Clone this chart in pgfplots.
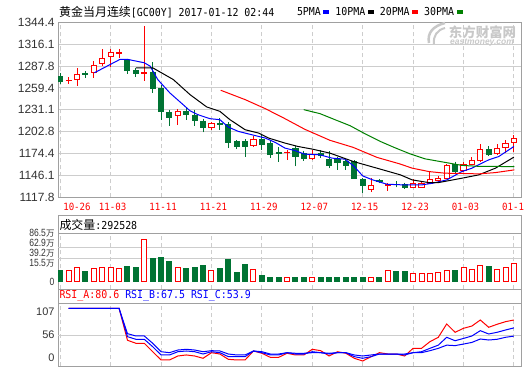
\documentclass[border=0pt]{standalone}
\usepackage{fontspec}
\setmainfont{Liberation Sans}
\newfontfamily\cjk{Noto Sans CJK SC}
\newfontfamily\mono[FakeStretch=0.906]{DejaVu Sans Mono}
\newfontfamily\dmono[FakeStretch=0.913]{DejaVu Sans Mono}
\newfontfamily\narrow[FakeStretch=0.82]{Liberation Sans}
\usepackage{pgfplots}
\pgfplotsset{compat=1.18}
\usepgfplotslibrary{statistics}
\definecolor{cred}{RGB}{255,0,0}
\definecolor{cgreen}{RGB}{0,115,51}
\definecolor{cblue}{RGB}{0,0,255}
\definecolor{cma30}{RGB}{0,128,0}
\definecolor{frame}{RGB}{160,160,160}
\definecolor{gridc}{RGB}{205,205,205}
\definecolor{labc}{RGB}{51,51,51}
\definecolor{wm}{RGB}{200,200,200}
\newcommand{\wan}{{\cjk\fontsize{8.5}{8.5}\selectfont 万}}
\pgfplotsset{
  panel/.style={scale only axis, width=463.3bp, xmin=-0.27, xmax=54.88,
    axis line style={frame, line width=1bp}, tick style={draw=none},
    xtick={0,6,...,54}, xmajorgrids,
    x grid style={gridc, dash pattern=on 4bp off 3bp, line width=1bp},
    y grid style={gridc, line width=1bp}},
  up/.style={draw=cred, fill=white, line width=1bp, forget plot},
  dn/.style={draw=cgreen, fill=cgreen, line width=1bp, forget plot},
}
\newcommand{\candle}[6]{\addplot[#1, boxplot prepared={draw position=#2, lower whisker=#3, lower quartile=#4, median=#4, upper quartile=#5, upper whisker=#6}] coordinates {};}
\begin{document}
\begin{tikzpicture}
\useasboundingbox (0bp,0bp) rectangle (524bp,369bp);
% ---------------- main price panel ----------------
\begin{axis}[panel, at={(58bp,171.7bp)}, anchor=south west, height=175bp,
  ymin=1117.8, ymax=1344.4,
  ytick={1117.8,1146.1,1174.4,1202.8,1231.1,1259.4,1287.8,1316.1,1344.4},
  yticklabels={1117.8,1146.1,1174.4,1202.8,1231.1,1259.4,1287.8,1316.1,1344.4},
  ymajorgrids,
  yticklabel style={font=\fontsize{12}{12}\selectfont, text=labc},
  xticklabels={,11-03,11-11,11-21,11-29,12-07,12-15,12-23,01-03,01-11},
  xticklabel style={font=\dmono\fontsize{10}{10}\selectfont, text=cred, anchor=center, yshift=-9.4bp, xshift=2bp},
  extra x ticks={0}, extra x tick labels={10-26},
  extra x tick style={xticklabel style={xshift=14.7bp}},
  boxplot/draw direction=y, boxplot/box extend=0.6, boxplot/whisker extend=0,
  legend plot pos=right, legend columns=-1,
  legend image code/.code={\fill (0bp,-1bp) rectangle (5bp,2bp);},
  legend style={at={(0.5159,1.056)}, anchor=west, draw=none, fill=none,
    inner sep=0pt, outer sep=0pt, font=\mono\fontsize{11}{11}\selectfont,
    /tikz/every odd column/.append style={column sep=2.5bp},
    /tikz/every even column/.append style={column sep=6bp},
    nodes={inner sep=0pt}},
]
% type, index, low, min(open,close), max(open,close), high
\candle{dn}{0}{1265}{1268.1}{1273.7}{1279}
\candle{up}{1}{1265}{1268.5}{1269.5}{1273.7}
\candle{up}{2}{1262.5}{1270.3}{1276.8}{1285.5}
\candle{dn}{3}{1272.5}{1277.4}{1278.2}{1281}
\candle{up}{4}{1272.5}{1279}{1288.9}{1294.1}
\candle{up}{5}{1287.6}{1291.1}{1297.2}{1309.3}
\candle{up}{6}{1286.3}{1299.8}{1305}{1309.3}
\candle{up}{7}{1298.5}{1304.5}{1305.3}{1309.3}
\candle{dn}{8}{1278}{1282.4}{1295.4}{1297.2}
\candle{dn}{9}{1273.8}{1277.7}{1282.4}{1285.5}
\candle{up}{10}{1268.6}{1278}{1279.4}{1339.6}
\candle{dn}{11}{1253}{1258.6}{1279}{1292.8}
\candle{dn}{12}{1218.3}{1228.3}{1258.6}{1263.1}
\candle{dn}{13}{1210.5}{1221.3}{1227}{1231.3}
\candle{up}{14}{1211.4}{1223.5}{1228.3}{1232.2}
\candle{dn}{15}{1218.3}{1225.2}{1228.3}{1233.5}
\candle{dn}{16}{1210.5}{1217}{1223.9}{1231.3}
\candle{dn}{17}{1201.8}{1208.3}{1215.3}{1219.6}
\candle{up}{18}{1205.3}{1208.8}{1213.1}{1215.3}
\candle{dn}{19}{1205.3}{1212.6}{1213.6}{1220}
\candle{dn}{20}{1181.5}{1189}{1212.7}{1215.1}
\candle{dn}{21}{1180.2}{1183.6}{1190}{1191.6}
\candle{dn}{22}{1170.6}{1183.6}{1190}{1193.2}
\candle{up}{23}{1182.8}{1185.4}{1192.3}{1197.5}
\candle{dn}{24}{1179.3}{1186.7}{1193.2}{1198.8}
\candle{dn}{25}{1168.9}{1173.7}{1187.7}{1192.3}
\candle{dn}{26}{1163.7}{1174.2}{1175.2}{1182.5}
\candle{up}{27}{1166.3}{1175.3}{1176.3}{1179.3}
\candle{dn}{28}{1157.8}{1170.6}{1181.5}{1184.5}
\candle{dn}{29}{1165}{1168.2}{1174.1}{1178}
\candle{up}{30}{1166.3}{1168.5}{1173.7}{1179.3}
\candle{dn}{31}{1168.9}{1171.5}{1174.5}{1178.4}
\candle{dn}{32}{1155.5}{1159.1}{1166.3}{1177.7}
\candle{dn}{33}{1153.3}{1162.8}{1166.7}{1169.5}
\candle{dn}{34}{1153.3}{1159.1}{1164.1}{1166.3}
\candle{dn}{35}{1141.6}{1142.2}{1163.7}{1165.6}
\candle{dn}{36}{1123.8}{1133.1}{1140.3}{1142.9}
\candle{up}{37}{1125.3}{1128}{1132.9}{1143.3}
\candle{dn}{38}{1136}{1138.6}{1139.4}{1141.5}
\candle{up}{39}{1126.4}{1133.4}{1134.2}{1136}
\candle{dn}{40}{1130.8}{1134.3}{1135}{1139}
\candle{dn}{41}{1129.5}{1130.3}{1134.7}{1136.8}
\candle{up}{42}{1129.9}{1130.8}{1136}{1141.2}
\candle{up}{43}{1130.8}{1130.8}{1136}{1139.4}
\candle{up}{44}{1135.5}{1136}{1140.3}{1152}
\candle{up}{45}{1138}{1139}{1142.5}{1145.5}
\candle{up}{46}{1141.6}{1142.5}{1158.9}{1160.7}
\candle{dn}{47}{1149}{1151.1}{1159.8}{1164.1}
\candle{up}{48}{1151.1}{1152.4}{1159.8}{1164.1}
\candle{up}{49}{1160.2}{1160.7}{1165}{1169.8}
\candle{up}{50}{1164.5}{1165.4}{1180.2}{1186.7}
\candle{dn}{51}{1171.5}{1172.8}{1180.2}{1183.6}
\candle{up}{52}{1172.8}{1174.1}{1181.5}{1187.1}
\candle{up}{53}{1175.8}{1182.8}{1188}{1192.3}
\candle{up}{54}{1177.1}{1189.3}{1194.5}{1198.8}
% moving averages
\addplot[color=cblue, line width=1bp] coordinates {
(4.05,1279.0) (7.1,1296.3) (8.06,1296.3) (10,1292.0) (10.7,1287.6) (11.6,1270.3)
(13.06,1252.8) (14.64,1237.6) (15.44,1229.8) (16.43,1224.6) (17.82,1219.6) (19.0,1218.3)
(20,1208.8) (21.2,1203.1) (22.8,1198.8) (24.4,1194.5) (25.6,1188.8) (26.75,1181.5)
(27.9,1178.4) (29.1,1173.7) (30.9,1172.8) (32.35,1168.5) (33.9,1167.2) (35.0,1157.6)
(36.0,1145.5) (37.2,1140.3) (38.9,1134.7) (41.0,1133.8) (43.0,1133.8) (44.3,1136)
(46.0,1140.3) (47.8,1151.1) (49.0,1155.5) (51.0,1166.3) (52.2,1170.6) (54,1183.6)};
\addlegendentry{5PMA}
\addplot[color=black, line width=1bp] coordinates {
(9.0,1285.5) (11.0,1285.5) (13.45,1270.3) (15.44,1250.8) (17.43,1234.8) (19.0,1229.1)
(20.2,1218.3) (20.8,1214.0) (22.0,1205.3) (23.6,1201.0) (24.8,1194.5) (26.75,1188.0)
(28.3,1183.6) (30.0,1180.2) (32.1,1175.0) (34.9,1164.1) (37.7,1155.5) (40.5,1146.8)
(41.9,1140.3) (43.9,1136.8) (45.0,1136.8) (47.8,1142.5) (49.8,1146.8) (51.8,1155.5) (54,1169.8)};
\addlegendentry{10PMA}
\addplot[color=cred, line width=1bp] coordinates {
(19.1,1256.4) (22.0,1244.3) (24.4,1232.6) (26.75,1219.6) (29.1,1205.9) (32.1,1191.6)
(34.85,1182.5) (37.7,1169.5) (40.4,1161.1) (41.9,1155.5) (43.9,1151.1) (45.8,1149.0)
(47.8,1148.7) (49.8,1148.1) (51.8,1149.8) (54.05,1153.3)};
\addlegendentry{20PMA}
\addplot[color=cma30, line width=1bp] coordinates {
(28.98,1231.3) (30.92,1226.1) (32.7,1218.3) (34.5,1210.5) (36.27,1200.1) (38.06,1190.3)
(39.85,1181.9) (41.63,1174.1) (43.42,1167.6) (45.8,1163.0) (47.82,1159.1) (49.96,1157.8) (54.05,1157.6)};
\addlegendentry{30PMA}
\end{axis}
% header texts
\node[anchor=west, inner sep=0pt] at (59bp,356.5bp) {{\cjk\fontsize{12}{12}\selectfont 黄金当月连续}{\mono\fontsize{11}{11}\selectfont [GC00Y] 2017-01-12 02:44}};
% watermark
\draw[wm, line width=2.5bp] (429bp,326bp) .. controls (427bp,336bp) and (433bp,343bp) .. (445bp,346bp);
\draw[wm, line width=2bp] (434bp,325bp) .. controls (433bp,333bp) and (437bp,339bp) .. (445bp,341bp);
\node[anchor=west, inner sep=0pt, text=wm] at (448.7bp,337bp) {\cjk\bfseries\fontsize{13.5}{13.5}\selectfont 东方财富网};
\node[anchor=west, inner sep=0pt, text=wm] at (450bp,326.5bp) {\bfseries\itshape\fontsize{8.5}{8.5}\selectfont eastmoney.com};
% ---------------- volume panel ----------------
\draw[frame, line width=1bp] (58bp,135.7bp) rectangle (521.3bp,153.3bp);
\node[anchor=west, inner sep=0pt] at (59.3bp,144bp) {{\cjk\fontsize{12}{12}\selectfont 成交量}{\mono\fontsize{11}{11}\selectfont :292528}};
\begin{axis}[panel, at={(58bp,79.7bp)}, anchor=south west, height=56bp,
  ymin=-14, ymax=89.1, ytick={0,34.1,52.5,70.9,88.9},
  yticklabels={0,15.5\wan,39.2\wan,62.9\wan,86.5\wan},
  xticklabels={},
  extra y ticks={43.3,63.5}, extra y tick labels={,}, extra y tick style={grid=major},
  yticklabel style={font=\narrow\fontsize{10.5}{10.5}\selectfont, text=labc}]
\addplot[ybar, bar width=5bp, bar shift=0pt, draw=cred, fill=white, line width=1bp] coordinates {
(1,19.7) (2,26.5) (4,24.7) (5,26.5) (6,26.5) (7,25.2) (10,78.1) (14,26.5) (18,21.5) (23,22.8)
(27,8.1) (30,8.1) (37,8.0) (39,19.7) (42,14.2) (43,14.2) (44,15.5) (45,16.6) (46,20.3)
(48,25.8) (49,22.8) (50,30.2) (52,22.8) (53,25.8) (54,33.9)};
\addplot[ybar, bar width=5bp, bar shift=0pt, draw=cgreen, fill=cgreen, line width=1bp] coordinates {
(0,20.3) (3,18.4) (8,27.6) (9,25.8) (11,43.1) (12,44.9) (13,38.1) (15,25.2) (16,26.5) (17,28.9)
(19,25.2) (20,40.0) (21,16.6) (22,32.0) (24,12.3) (25,8.1) (26,8.0) (28,8.1) (29,8.0) (31,8.1)
(32,8.1) (33,8.0) (34,8.1) (35,8.2) (36,8.1) (38,8.0) (40,18.4) (41,18.4) (47,19.7) (51,27.1)};
\end{axis}
% ---------------- RSI panel ----------------
\draw[frame, line width=1bp] (58bp,65.7bp) rectangle (521.3bp,79.7bp);
\node[anchor=west, inner sep=0pt] at (59.3bp,73.3bp) {\mono\fontsize{11}{11}\selectfont\textcolor{cred}{RSI\_A:80.6} \textcolor{cblue}{RSI\_B:67.5} \textcolor{cblue}{RSI\_C:53.9}};
\begin{axis}[panel, at={(58bp,3bp)}, anchor=south west, height=62.7bp,
  ymin=4.3, ymax=108.3, ytick={18.1,94.4}, yticklabels={0,107},
  extra y ticks={55.7}, extra y tick labels={56}, extra y tick style={grid=major},
  xticklabels={},
  yticklabel style={font=\fontsize{11}{11}\selectfont, text=labc}]
\addplot[color=cred, line width=1bp] coordinates {
(1,100) (2,100) (3,100) (4,100) (5,100) (6,100) (7,100) (8,47) (9,42) (10,42) (11,28)
(12,14.3) (13,14.3) (14,20.9) (15,22.6) (16,20.9) (17,17.1) (18,26.4) (19,24.2) (20,15.4)
(21,14.3) (22,14.3) (23,29.2) (24,25.4) (25,18.7) (26,18.7) (27,25.4) (28,22.6) (29,22.6)
(30,32) (31,29.7) (32,20.9) (33,28) (34,25.4) (35,17.1) (36,12.6) (37,19.8) (38,26.4)
(39,24.2) (40,24.2) (41,20.9) (42,33.6) (43,33.6) (44,44.6) (45,51.9) (46,74) (47,60.2)
(48,66.8) (49,70.6) (50,80.6) (51,68.5) (52,73.5) (53,77.8) (54,80.6)};
\addplot[color=cblue, line width=1bp] coordinates {
(1,100) (2,100) (3,100) (4,100) (5,100) (6,100) (7,100) (8,53) (9,48.6) (10,48.6) (11,36.3)
(12,22.6) (13,22.6) (14,28) (15,29.2) (16,28) (17,24.2) (18,28) (19,26.4) (20,19.8)
(21,19.8) (22,19.8) (23,29.2) (24,26.4) (25,22.6) (26,22.6) (27,26.4) (28,24.2) (29,24.2)
(30,28) (31,26.4) (32,24.2) (33,26.4) (34,26.4) (35,19.8) (36,17.1) (37,19.8) (38,24.2)
(39,24.2) (40,24.2) (41,22.6) (42,26.4) (43,28) (44,33.6) (45,38.9) (46,51.9) (47,46.2)
(48,50) (49,54.1) (50,62.9) (51,57.4) (52,60.2) (53,64) (54,67.5)};
\addplot[color=cblue, line width=1bp] coordinates {
(1,100) (2,100) (3,100) (4,100) (5,100) (6,100) (7,100) (8,58) (9,54.1) (10,54.1) (11,42)
(12,28) (13,26.4) (14,30.8) (15,32) (16,30.8) (17,28) (18,29.7) (19,29.2) (20,24.2)
(21,22.6) (22,22.6) (23,29.2) (24,28) (25,24.2) (26,24.2) (27,26.4) (28,25.4) (29,25.4)
(30,26.4) (31,26.4) (32,25.4) (33,26.4) (34,26.4) (35,22.6) (36,20.9) (37,22.6) (38,24.2)
(39,24.2) (40,24.2) (41,24.2) (42,26.4) (43,26.4) (44,29.7) (45,33.6) (46,38.9) (47,38.1)
(48,40.7) (49,43.4) (50,49.1) (51,47.4) (52,48.6) (53,51.9) (54,53.9)};
\end{axis}
\end{tikzpicture}
\end{document}
